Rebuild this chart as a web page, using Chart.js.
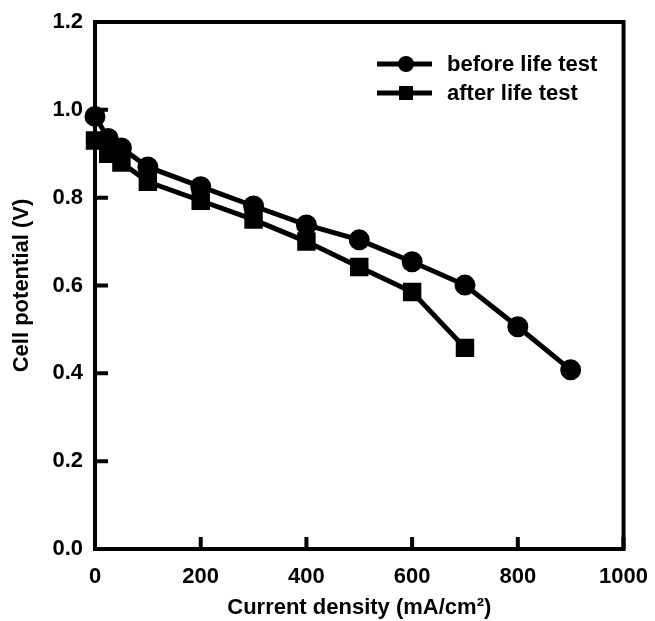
<!DOCTYPE html>
<html>
<head>
<meta charset="utf-8">
<script src="https://cdn.jsdelivr.net/npm/chart.js@4"></script>
<style>
  html, body { margin: 0; padding: 0; background: #fff; }
  #wrap { width: 655px; height: 621px; }
</style>
</head>
<body>
<div id="wrap"><canvas id="cellChart" width="655" height="621"></canvas></div>
<script>
'use strict';

const beforeX = [0, 25, 50, 100, 200, 300, 400, 500, 600, 700, 800, 900];
const beforeY = [0.985, 0.935, 0.913, 0.870, 0.825, 0.781, 0.738, 0.704, 0.654, 0.601, 0.506, 0.408];
const afterX  = [0, 25, 50, 100, 200, 300, 400, 500, 600, 700];
const afterY  = [0.930, 0.900, 0.880, 0.836, 0.793, 0.750, 0.700, 0.642, 0.585, 0.458];
const seriesNames = ['before life test', 'after life test'];
const xTicks = [0, 200, 400, 600, 800, 1000];
const yTicks = [0.0, 0.2, 0.4, 0.6, 0.8, 1.0, 1.2];

const FAMILY = '"Liberation Sans", Arial, sans-serif';
const fontSpec = { family: FAMILY, size: 22, weight: 'bold' };

function pts(xs, ys) {
  return xs.map((x, i) => ({ x, y: ys[i] }));
}

// box around the plot and inward tick marks
const framePlugin = {
  id: 'frame',
  beforeDatasetsDraw(chart) {
    const { ctx, chartArea: a, scales } = chart;
    ctx.save();
    ctx.strokeStyle = '#000';
    ctx.lineWidth = 4;
    ctx.strokeRect(a.left, a.top, a.right - a.left, a.bottom - a.top);
    ctx.beginPath();
    xTicks.forEach(v => {
      const px = scales.x.getPixelForValue(v);
      ctx.moveTo(px, a.bottom);
      ctx.lineTo(px, a.bottom - 12);
    });
    yTicks.forEach(v => {
      const py = scales.y.getPixelForValue(v);
      ctx.moveTo(a.left, py);
      ctx.lineTo(a.left + 13, py);
    });
    ctx.stroke();
    ctx.restore();
  }
};

// legend inside the plot, top right
const legendPlugin = {
  id: 'innerLegend',
  afterDatasetsDraw(chart) {
    const { ctx } = chart;
    ctx.save();
    ctx.font = 'bold 22px ' + FAMILY;
    ctx.textBaseline = 'middle';
    chart.data.datasets.forEach((ds, i) => {
      const y = 64 + i * 29;
      ctx.strokeStyle = '#000';
      ctx.lineWidth = 5;
      ctx.beginPath();
      ctx.moveTo(377, y);
      ctx.lineTo(432, y);
      ctx.stroke();
      ctx.fillStyle = '#000';
      if (ds.pointStyle === 'circle') {
        ctx.beginPath();
        ctx.arc(406, y, 8, 0, Math.PI * 2);
        ctx.fill();
      } else {
        ctx.fillRect(399, y - 7, 14, 14);
      }
      ctx.fillText(ds.label, 447, y + 1);
    });
    ctx.restore();
  }
};

const ctx = document.getElementById('cellChart').getContext('2d');
new Chart(ctx, {
  type: 'line',
  data: {
    datasets: [
      {
        label: seriesNames[0],
        data: pts(beforeX, beforeY),
        borderColor: '#000',
        backgroundColor: '#000',
        borderWidth: 5,
        pointStyle: 'circle',
        pointRadius: 8,
        pointHoverRadius: 8,
        tension: 0,
        clip: false
      },
      {
        label: seriesNames[1],
        data: pts(afterX, afterY),
        borderColor: '#000',
        backgroundColor: '#000',
        borderWidth: 5,
        pointStyle: 'rect',
        pointRadius: 9.5,
        pointHoverRadius: 9.5,
        tension: 0,
        clip: false
      }
    ]
  },
  options: {
    responsive: false,
    animation: false,
    layout: { padding: { left: 0, top: 22, right: 28, bottom: 0 } },
    plugins: {
      legend: { display: false },
      tooltip: { enabled: false }
    },
    scales: {
      x: {
        type: 'linear',
        min: 0,
        max: 1000,
        afterFit: s => { s.height = 72; },
        afterBuildTicks: s => { s.ticks = xTicks.map(v => ({ value: v })); },
        grid: { display: false },
        border: { display: false },
        ticks: {
          color: '#000',
          font: fontSpec,
          padding: 7,
          maxRotation: 0,
          callback: v => String(v)
        },
        title: {
          display: true,
          text: 'Current density (mA/cm²)',
          color: '#000',
          font: fontSpec,
          padding: { top: 4, bottom: 0 }
        }
      },
      y: {
        type: 'linear',
        min: 0,
        max: 1.2,
        afterFit: s => { s.width = 95; },
        afterBuildTicks: s => { s.ticks = yTicks.map(v => ({ value: v })); },
        grid: { display: false },
        border: { display: false },
        ticks: {
          color: '#000',
          font: fontSpec,
          padding: 4,
          callback: v => v.toFixed(1)
        },
        title: {
          display: true,
          text: 'Cell potential (V)',
          color: '#000',
          font: fontSpec,
          padding: { top: 9, bottom: 0 }
        }
      }
    }
  },
  plugins: [framePlugin, legendPlugin]
});
</script>
</body>
</html>
